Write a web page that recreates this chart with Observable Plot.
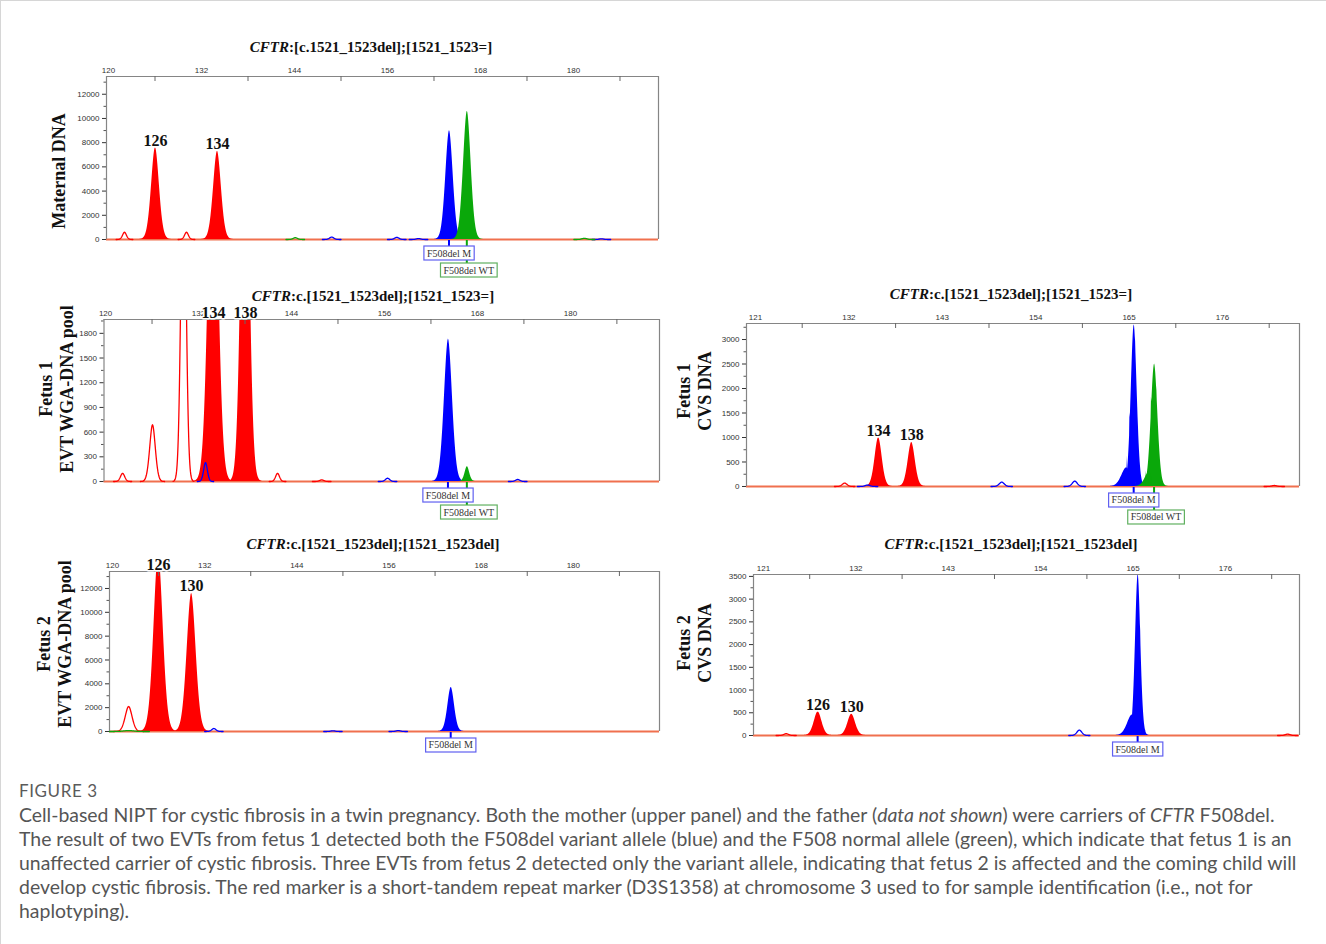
<!DOCTYPE html>
<html><head><meta charset="utf-8">
<script src="https://cdn.jsdelivr.net/npm/d3@7"></script>
<script src="https://cdn.jsdelivr.net/npm/@observablehq/plot@0.6"></script>
<style>
body{margin:0;background:#fff;}
#page{position:relative;width:1326px;height:944px;overflow:hidden;border-top:1px solid #d6d6d6;border-left:1px solid #d6d6d6;box-sizing:border-box;background:#fff;}
.title{position:absolute;font-family:"Liberation Serif",serif;font-weight:bold;font-size:15px;line-height:18px;white-space:nowrap;transform:translateX(-50%);color:#111;}
.ylab{position:absolute;font-family:"Liberation Serif",serif;font-weight:bold;font-size:18px;line-height:21px;text-align:center;white-space:nowrap;transform:translate(-50%,-50%) rotate(-90deg);color:#111;}
.panel{position:absolute;}
#figno{position:absolute;left:18px;top:779px;font-family:Lato,sans-serif;font-size:17px;letter-spacing:0.6px;color:#5b5b5b;white-space:nowrap;}
#caption{position:absolute;left:18px;top:802px;font-family:Lato,sans-serif;font-size:16.5px;line-height:24px;color:#555;white-space:nowrap;}
</style></head>
<body><div id="page">
<div class="title" style="left:370px;top:37px"><i>CFTR</i>:[c.1521_1523del];[1521_1523=]</div>
<div class="title" style="left:372px;top:286px"><i>CFTR</i>:c.[1521_1523del];[1521_1523=]</div>
<div class="title" style="left:1010px;top:284px"><i>CFTR</i>:c.[1521_1523del];[1521_1523=]</div>
<div class="title" style="left:372px;top:534px"><i>CFTR</i>:c.[1521_1523del];[1521_1523del]</div>
<div class="title" style="left:1010px;top:534px"><i>CFTR</i>:c.[1521_1523del];[1521_1523del]</div>
<div class="ylab" style="left:58px;top:170px">Maternal DNA</div>
<div class="ylab" style="left:55.5px;top:388px">Fetus 1<br>EVT WGA-DNA pool</div>
<div class="ylab" style="left:693.5px;top:390px">Fetus 1<br>CVS DNA</div>
<div class="ylab" style="left:54px;top:643px">Fetus 2<br>EVT WGA-DNA pool</div>
<div class="ylab" style="left:693.5px;top:642px">Fetus 2<br>CVS DNA</div>
<div id="p1" class="panel"></div><div id="p2" class="panel"></div><div id="p3" class="panel"></div><div id="p4" class="panel"></div><div id="p5" class="panel"></div>
<div id="figno">FIGURE 3</div>
<div id="caption"><span class="ln">Cell-based NIPT for cystic fibrosis in a twin pregnancy. Both the mother (upper panel) and the father (<i>data not shown</i>) were carriers of <i>CFTR</i> F508del.</span><br><span class="ln">The result of two EVTs from fetus 1 detected both the F508del variant allele (blue) and the F508 normal allele (green), which indicate that fetus 1 is an</span><br><span class="ln" id="longest">unaffected carrier of cystic fibrosis. Three EVTs from fetus 2 detected only the variant allele, indicating that fetus 2 is affected and the coming child will</span><br><span class="ln">develop cystic fibrosis. The red marker is a short-tandem repeat marker (D3S1358) at chromosome 3 used to for sample identification (i.e., not for</span><br><span class="ln">haplotyping).</span></div>
</div>
<script>
// ---------- colours ----------
const dyeColor = {red: "#ff0000", blue: "#0000ff", green: "#0aa80a"};

// ---------- tick labels ----------
const ticks120 = [120, 132, 144, 156, 168, 180];
const minor120 = [126, 138, 150, 162, 174, 186];
const ticks121 = [121, 132, 143, 154, 165, 176];
const minor121 = [126.5, 137.5, 148.5, 159.5, 170.5, 181.5];
const yTicks12000 = [0, 2000, 4000, 6000, 8000, 10000, 12000];
const yMinor12000 = [1000, 3000, 5000, 7000, 9000, 11000, 13000];
const yTicks1800 = [0, 300, 600, 900, 1200, 1500, 1800];
const yMinor1800 = [150, 450, 750, 1050, 1350, 1650, 1950];
const yTicks3000 = [0, 500, 1000, 1500, 2000, 2500, 3000];
const yTicks3500 = [0, 500, 1000, 1500, 2000, 2500, 3000, 3500];
const yMinor3500 = [250, 750, 1250, 1750, 2250, 2750, 3250];

// ---------- peaks: dye, size (bp), height (RFU), width (bp), filled ----------
const maternalPeaks = [
  {dye: "red", size: 122.06, height: 600, width: 0.36, filled: false},
  {dye: "red", size: 126.06, height: 7600, width: 0.72, filled: true},
  {dye: "red", size: 130.06, height: 600, width: 0.36, filled: false},
  {dye: "red", size: 134.06, height: 7300, width: 0.72, filled: true},
  {dye: "green", size: 144.1, height: 150, width: 0.4, filled: false},
  {dye: "blue", size: 148.8, height: 200, width: 0.4, filled: false},
  {dye: "blue", size: 157.2, height: 180, width: 0.4, filled: false},
  {dye: "blue", size: 160.0, height: 80, width: 0.4, filled: false},
  {dye: "blue", size: 164.0, height: 9000, width: 0.68, filled: true},
  {dye: "green", size: 166.3, height: 10600, width: 0.7, filled: true},
  {dye: "green", size: 181.4, height: 100, width: 0.45, filled: false},
  {dye: "blue", size: 183.6, height: 60, width: 0.4, filled: false}
];
const fetus1EvtPeaks = [
  {dye: "red", size: 122.2, height: 100, width: 0.39, filled: false},
  {dye: "red", size: 126.06, height: 690, width: 0.52, filled: false},
  {dye: "red", size: 130.06, height: 4400, width: 0.45, filled: false},
  {dye: "red", size: 133.94, height: 4800, width: 0.86, filled: true},
  {dye: "red", size: 138.06, height: 5400, width: 0.72, filled: true},
  {dye: "blue", size: 132.9, height: 230, width: 0.35, filled: false},
  {dye: "red", size: 142.2, height: 100, width: 0.36, filled: false},
  {dye: "red", size: 147.9, height: 20, width: 0.4, filled: false},
  {dye: "blue", size: 156.4, height: 40, width: 0.4, filled: false},
  {dye: "blue", size: 164.26, height: 1730, width: 0.74, filled: true},
  {dye: "green", size: 166.7, height: 180, width: 0.42, filled: true},
  {dye: "blue", size: 173.2, height: 25, width: 0.4, filled: false}
];
const fetus1CvsPeaks = [
  {dye: "red", size: 131.5, height: 70, width: 0.4, filled: false},
  {dye: "blue", size: 134.2, height: 30, width: 0.4, filled: false},
  {dye: "red", size: 135.5, height: 1000, width: 0.6, filled: true},
  {dye: "red", size: 139.4, height: 900, width: 0.6, filled: true},
  {dye: "blue", size: 150.0, height: 90, width: 0.42, filled: false},
  {dye: "blue", size: 158.6, height: 110, width: 0.42, filled: false},
  {dye: "blue", size: 164.7, height: 380, width: 0.8, filled: true},
  {dye: "blue", size: 165.6, height: 3300, width: 0.5, filled: true},
  {dye: "green", size: 167.4, height: 300, width: 0.7, filled: true},
  {dye: "green", size: 168.0, height: 2500, width: 0.55, filled: true},
  {dye: "red", size: 182.1, height: 20, width: 0.4, filled: false}
];
const fetus2EvtPeaks = [
  {dye: "green", size: 122.1, height: 80, width: 0.9, filled: false},
  {dye: "red", size: 122.1, height: 2100, width: 0.64, filled: false},
  {dye: "red", size: 126.0, height: 15000, width: 0.85, filled: true},
  {dye: "red", size: 130.3, height: 11600, width: 0.83, filled: true},
  {dye: "blue", size: 133.2, height: 250, width: 0.4, filled: false},
  {dye: "blue", size: 148.7, height: 60, width: 0.4, filled: false},
  {dye: "blue", size: 157.2, height: 80, width: 0.4, filled: false},
  {dye: "blue", size: 164.1, height: 3700, width: 0.62, filled: true}
];
const fetus2CvsPeaks = [
  {dye: "red", size: 123.7, height: 40, width: 0.4, filled: false},
  {dye: "red", size: 127.5, height: 520, width: 0.65, filled: true},
  {dye: "red", size: 131.5, height: 470, width: 0.65, filled: true},
  {dye: "blue", size: 158.6, height: 120, width: 0.42, filled: false},
  {dye: "blue", size: 164.9, height: 450, width: 0.8, filled: true},
  {dye: "blue", size: 165.6, height: 3550, width: 0.45, filled: true},
  {dye: "red", size: 183.4, height: 30, width: 0.4, filled: false}
];

// ---------- allele labels ----------
const maternalLabels = [{text: "126", size: 126.06, height: 7600}, {text: "134", size: 134.06, height: 7300}];
const fetus1EvtLabels = [{text: "134", size: 133.94, height: 4800}, {text: "138", size: 138.06, height: 5400}];
const fetus1CvsLabels = [{text: "134", size: 135.5, height: 1000}, {text: "138", size: 139.4, height: 900}];
const fetus2EvtLabels = [{text: "126", size: 126.0, height: 15000}, {text: "130", size: 130.3, height: 11600}];
const fetus2CvsLabels = [{text: "126", size: 127.5, height: 520}, {text: "130", size: 131.5, height: 470}];

// ---------- bin markers ----------
const maternalMarkers = [{name: "F508del M", dye: "blue", size: 164.0, row: 0}, {name: "F508del WT", dye: "green", size: 166.3, row: 1}];
const fetus1EvtMarkers = [{name: "F508del M", dye: "blue", size: 164.26, row: 0}, {name: "F508del WT", dye: "green", size: 166.7, row: 1}];
const fetus1CvsMarkers = [{name: "F508del M", dye: "blue", size: 165.6, row: 0}, {name: "F508del WT", dye: "green", size: 168.0, row: 1}];
const fetus2EvtMarkers = [{name: "F508del M", dye: "blue", size: 164.1, row: 0}];
const fetus2CvsMarkers = [{name: "F508del M", dye: "blue", size: 165.6, row: 0}];

// peak glyph: electropherogram-like profile drawn around each listed peak
function traces(peaks) {
  const out = [];
  peaks.forEach((p, i) => {
    const n = 72;
    for (let k = 0; k <= n; k++) {
      const t = -3 + 6 * k / n;
      out.push({id: i, dye: p.dye, filled: p.filled, x: p.size + t * p.width, y: p.height * Math.exp(-Math.pow(Math.abs(t), 1.85))});
    }
  });
  return out;
}

function drawPanel(el, cfg) {
  const {box, frame, xDomain, yDomain, peaks, labels, markers, topTicks, topMinor, yTicks, yMinor} = cfg;
  const width = box.right - box.left, height = box.bottom - box.top;
  const mL = frame.left - box.left, mR = box.right - frame.right, mT = frame.top - box.top, mB = box.bottom - frame.bottom;
  const pxPerY = (frame.bottom - frame.top) / (yDomain[1] - yDomain[0]);
  const tickLen = 5 / pxPerY;
  const pts = traces(peaks);
  const marks = [Plot.ruleY([0], {stroke: "#f0704e", strokeWidth: 1.8})];
  for (const dye of ["red", "blue", "green"]) {
    const f = pts.filter(d => d.filled && d.dye === dye);
    if (f.length) marks.push(Plot.areaY(f, {x: "x", y: "y", z: "id", fill: dyeColor[dye], clip: true}));
  }
  for (const dye of ["red", "blue", "green"]) {
    const f = pts.filter(d => !d.filled && d.dye === dye);
    if (f.length) marks.push(Plot.lineY(f, {x: "x", y: "y", z: "id", stroke: dyeColor[dye], strokeWidth: 1.3, clip: true}));
  }
  marks.push(
    Plot.ruleY([yDomain[1]], {stroke: "#858585", strokeWidth: 1.2}),
    Plot.ruleX([xDomain[0], xDomain[1]], {y1: 0, y2: yDomain[1], stroke: "#858585", strokeWidth: 1.2}),
    Plot.ruleX(topMinor.filter(v => v < xDomain[1]), {y1: yDomain[1], y2: yDomain[1] - tickLen, stroke: "#666"}),
    Plot.axisX({anchor: "top", ticks: topTicks, tickSize: 0, tickPadding: 4, tickFormat: d => String(d), label: null, color: "#333"}),
    Plot.axisY({anchor: "left", ticks: yTicks, tickSize: 4, tickPadding: 3, tickFormat: d => String(d), label: null, color: "#333"}),
    Plot.axisY({anchor: "left", ticks: yMinor.filter(v => v < yDomain[1]), tickSize: 2.5, tickFormat: () => "", label: null, color: "#555"}),
    Plot.text(labels, {x: "size", y: d => Math.min(d.height, yDomain[1]), text: "text", lineAnchor: "bottom", dy: -2, fontFamily: "Liberation Serif", fontWeight: "bold", fontSize: 16, fill: "#111", stroke: "white", strokeWidth: 3, paintOrder: "stroke"})
  );
  const chart = Plot.plot({
    width, height, marginLeft: mL, marginRight: mR, marginTop: mT, marginBottom: mB,
    x: {domain: xDomain, axis: null},
    y: {domain: yDomain, axis: null},
    style: {fontFamily: "Liberation Sans, Arial, sans-serif", fontSize: "8px", background: "transparent", overflow: "visible", maxWidth: "none"},
    marks
  });
  el.style.left = box.left + "px";
  el.style.top = box.top + "px";
  el.appendChild(chart);
  const sx = chart.scale("x"), sy = chart.scale("y");
  const y0 = sy.apply(0);
  const g = d3.select(chart).append("g");
  // lower rows first so the upper box covers the longer connector
  markers.slice().sort((a, b) => b.row - a.row).forEach(m => {
    const x = sx.apply(m.size);
    const col = dyeColor[m.dye];
    const top = y0 + 7 + m.row * 17;
    g.append("line").attr("x1", x).attr("x2", x).attr("y1", y0 + 1).attr("y2", top).attr("stroke", col).attr("stroke-width", 2);
    const r = g.append("rect");
    const t = g.append("text").attr("x", x + m.row * 2).attr("y", top + 10.5).attr("text-anchor", "middle")
      .attr("font-family", "Liberation Serif, serif").attr("font-size", 10).attr("fill", "#333").text(m.name);
    const bb = t.node().getBBox();
    r.attr("x", bb.x - 3).attr("y", top).attr("width", bb.width + 6).attr("height", 14)
      .attr("fill", "white").attr("stroke", m.dye === "blue" ? "#6060f0" : "#60b060").attr("stroke-width", 1.2);
  });
}

drawPanel(document.getElementById("p1"), {
  box: {left: 30, top: 55, right: 670, bottom: 290}, frame: {left: 105, right: 657, top: 75, bottom: 240},
  xDomain: [119.74, 190.97], yDomain: [-165, 13466],
  peaks: maternalPeaks, labels: maternalLabels, markers: maternalMarkers,
  topTicks: ticks120, topMinor: minor120, yTicks: yTicks12000, yMinor: yMinor12000
});
drawPanel(document.getElementById("p2"), {
  box: {left: 30, top: 300, right: 670, bottom: 530}, frame: {left: 102.5, right: 658, top: 318, bottom: 482},
  xDomain: [119.8, 191.5], yDomain: [-24, 1968],
  peaks: fetus1EvtPeaks, labels: fetus1EvtLabels, markers: fetus1EvtMarkers,
  topTicks: ticks120, topMinor: minor120, yTicks: yTicks1800, yMinor: yMinor1800
});
drawPanel(document.getElementById("p3"), {
  box: {left: 700, top: 300, right: 1310, bottom: 530}, frame: {left: 745, right: 1298, top: 322, bottom: 487},
  xDomain: [119.94, 185.07], yDomain: [-41, 3327],
  peaks: fetus1CvsPeaks, labels: fetus1CvsLabels, markers: fetus1CvsMarkers,
  topTicks: ticks121, topMinor: minor121, yTicks: yTicks3000, yMinor: yMinor3500
});
drawPanel(document.getElementById("p4"), {
  box: {left: 30, top: 550, right: 670, bottom: 770}, frame: {left: 108, right: 658, top: 570, bottom: 732},
  xDomain: [119.61, 191.22], yDomain: [-168, 13424],
  peaks: fetus2EvtPeaks, labels: fetus2EvtLabels, markers: fetus2EvtMarkers,
  topTicks: ticks120, topMinor: minor120, yTicks: yTicks12000, yMinor: yMinor12000
});
drawPanel(document.getElementById("p5"), {
  box: {left: 700, top: 550, right: 1310, bottom: 770}, frame: {left: 752, right: 1298, top: 573, bottom: 736},
  xDomain: [119.81, 184.81], yDomain: [-44, 3542],
  peaks: fetus2CvsPeaks, labels: fetus2CvsLabels, markers: fetus2CvsMarkers,
  topTicks: ticks121, topMinor: minor121, yTicks: yTicks3500, yMinor: yMinor3500
});

// fit caption width to the reference (longest line spans ~1278px)
const cap = document.getElementById("caption");
const longest = document.getElementById("longest");
const w = longest.getBoundingClientRect().width;
if (w > 0) cap.style.fontSize = (16.5 * 1278 / w).toFixed(2) + "px";
</script>
</body></html>
